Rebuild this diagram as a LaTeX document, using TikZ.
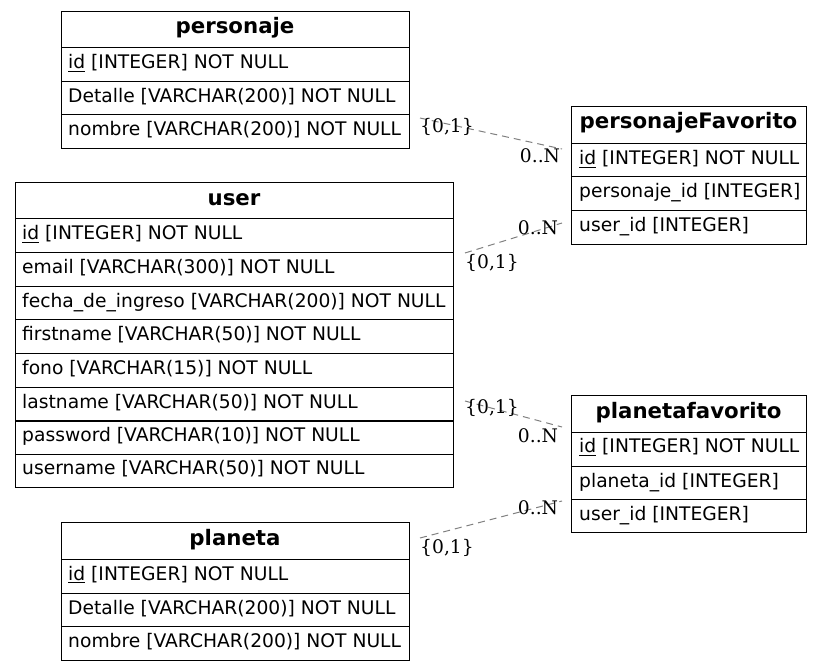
\documentclass[tikz,border=0pt]{standalone}
\usepackage{fontspec}
\setmainfont{DejaVu Sans}
\newfontfamily\lblfont{DejaVu Serif}
\newlength\ulw
\newcommand\idul[1]{\settowidth\ulw{#1}\rlap{\rule[-2.6pt]{\ulw}{1pt}}#1}
\definecolor{edgegray}{RGB}{128,128,128}
\tikzset{
 tbl/.style={draw, line width=1pt, anchor=north west, inner sep=0pt},
 sep/.style={line width=1pt},
 fld/.style={anchor=base west, inner sep=0pt, yshift=2pt, font=\fontsize{18.7}{22}\selectfont},
 hdr/.style={anchor=base, inner sep=0pt, yshift=1pt, font=\fontsize{21.3}{25}\selectfont\bfseries},
 rel/.style={draw=edgegray, line width=1pt, dash pattern=on 7pt off 5pt},
 card/.style={inner sep=0pt, font=\lblfont\fontsize{18.7}{22}\selectfont},
}
\begin{document}
\begin{tikzpicture}[x=1pt,y=-1pt]
\useasboundingbox (0,0) rectangle (823,671);
% personaje
\node[tbl, minimum width=348pt, minimum height=137pt] (personaje) at (61,11) {};
\foreach \yy in {48,82,115} \draw[sep] (61,\yy) -- (409,\yy);
\node[hdr] (personajeH) at (235,35) {personaje};
\node[fld] (personajeA) at (68,71) {\idul{id} [INTEGER] NOT NULL};
\node[fld] (personajeB) at (68,105) {Detalle [VARCHAR(200)] NOT NULL};
\node[fld] (personajeC) at (68,138) {nombre [VARCHAR(200)] NOT NULL};
% user
\node[tbl, minimum width=438pt, minimum height=304pt] (user) at (15,182.5) {};
\foreach \yy in {219,253,287,320,354,388,421,454} \draw[sep] (15,\yy) -- (453,\yy);
\node[hdr] (userH) at (234,207) {user};
\node[fld] (userA) at (22,242) {\idul{id} [INTEGER] NOT NULL};
\node[fld] (userB) at (22,276) {email [VARCHAR(300)] NOT NULL};
\node[fld] (userC) at (22,310) {fecha\_de\_ingreso [VARCHAR(200)] NOT NULL};
\node[fld] (userD) at (22,343) {firstname [VARCHAR(50)] NOT NULL};
\node[fld] (userE) at (22,377) {fono [VARCHAR(15)] NOT NULL};
\node[fld] (userF) at (22,411) {lastname [VARCHAR(50)] NOT NULL};
\node[fld] (userG) at (22,444) {password [VARCHAR(10)] NOT NULL};
\node[fld] (userH2) at (22,477) {username [VARCHAR(50)] NOT NULL};
% personajeFavorito
\node[tbl, minimum width=235pt, minimum height=138pt] (pfav) at (571,106) {};
\foreach \yy in {144,177,211} \draw[sep] (571,\yy) -- (806,\yy);
\node[hdr] (pfavH) at (688.5,130) {personajeFavorito};
\node[fld] (pfavA) at (579,167) {\idul{id} [INTEGER] NOT NULL};
\node[fld] (pfavB) at (579,200) {personaje\_id [INTEGER]};
\node[fld] (pfavC) at (579,234) {user\_id [INTEGER]};
% planetafavorito
\node[tbl, minimum width=235pt, minimum height=137pt] (plfav) at (571,395) {};
\foreach \yy in {432,466,499} \draw[sep] (571,\yy) -- (806,\yy);
\node[hdr] (plfavH) at (688.5,419) {planetafavorito};
\node[fld] (plfavA) at (579,455) {\idul{id} [INTEGER] NOT NULL};
\node[fld] (plfavB) at (579,489) {planeta\_id [INTEGER]};
\node[fld] (plfavC) at (579,522) {user\_id [INTEGER]};
% planeta
\node[tbl, minimum width=348pt, minimum height=138pt] (planeta) at (61,522) {};
\foreach \yy in {559,593,626} \draw[sep] (61,\yy) -- (409,\yy);
\node[hdr] (planetaH) at (235,546) {planeta};
\node[fld] (planetaA) at (68,582) {\idul{id} [INTEGER] NOT NULL};
\node[fld] (planetaB) at (68,616) {Detalle [VARCHAR(200)] NOT NULL};
\node[fld] (planetaC) at (68,649) {nombre [VARCHAR(200)] NOT NULL};
% relation end points
\coordinate (r1a) at (420,118); \coordinate (r1b) at (562,149);
\coordinate (r2a) at (465,253); \coordinate (r2b) at (562,223);
\coordinate (r3a) at (465,401); \coordinate (r3b) at (562,427);
\coordinate (r4a) at (420,538); \coordinate (r4b) at (562,501);
\draw[rel] (r1a) -- (r1b);
\draw[rel] (r2a) -- (r2b);
\draw[rel] (r3a) -- (r3b);
\draw[rel] (r4a) -- (r4b);
% cardinalities
\node[card] (c1a) at (447,127) {\{0,1\}};
\node[card] (c1b) at (540,156) {0..N};
\node[card] (c2b) at (538,228) {0..N};
\node[card] (c2a) at (492,263) {\{0,1\}};
\node[card] (c3a) at (492,408) {\{0,1\}};
\node[card] (c3b) at (538,436) {0..N};
\node[card] (c4b) at (538,508) {0..N};
\node[card] (c4a) at (447,548) {\{0,1\}};
\end{tikzpicture}
\end{document}
